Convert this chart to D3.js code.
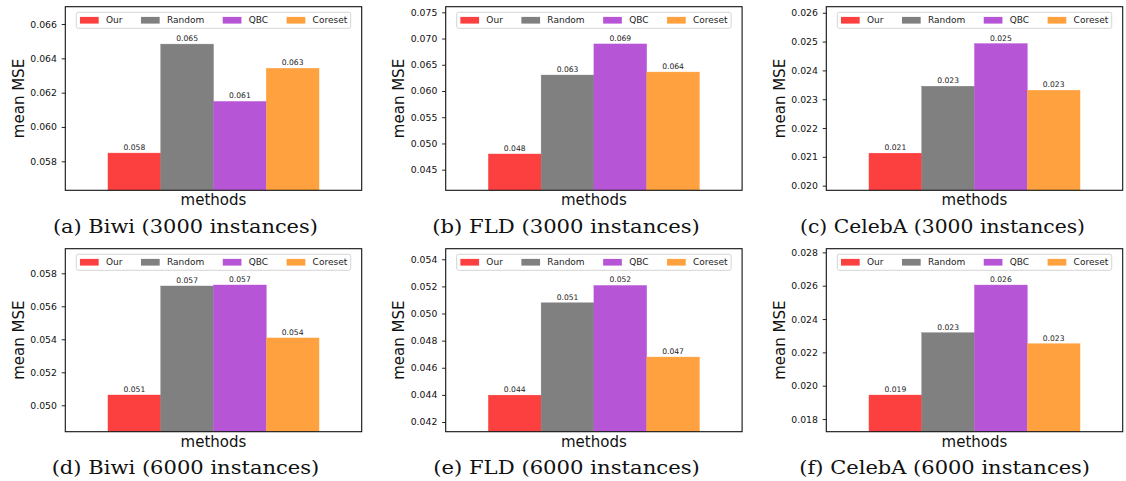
<!DOCTYPE html>
<html><head><meta charset="utf-8">
<script src="https://cdn.jsdelivr.net/npm/d3@7"></script>
<style>body{margin:0;background:#fff}svg{display:block}</style>
</head><body><svg id="c" width="1126" height="481"></svg>
<script>
// ---- data ----
const methods = ["Our", "Random", "QBC", "Coreset"];
const captions = [
  "(a) Biwi (3000 instances)", "(b) FLD (3000 instances)", "(c) CelebA (3000 instances)",
  "(d) Biwi (6000 instances)", "(e) FLD (6000 instances)", "(f) CelebA (6000 instances)"
];
const biwi3000   = [0.05848, 0.06483, 0.06149, 0.06342];
const fld3000    = [0.04799, 0.06304, 0.06897, 0.06361];
const celeba3000 = [0.021128, 0.023451, 0.02493, 0.023312];
const biwi6000   = [0.050624, 0.05723, 0.05729, 0.05408];
const fld6000    = [0.04398, 0.05079, 0.05207, 0.04679];
const celeba6000 = [0.01944, 0.02318, 0.02604, 0.02252];

const yLimBiwi3000   = [0.05631, 0.06701];
const yLimFld3000    = [0.04107, 0.07607];
const yLimCeleba3000 = [0.01984, 0.02621];
const yLimBiwi6000   = [0.0484, 0.05949];
const yLimFld6000    = [0.041285, 0.05478];
const yLimCeleba6000 = [0.01724, 0.02822];

const ticksBiwi3000   = [0.058, 0.060, 0.062, 0.064, 0.066];
const ticksFld3000    = [0.045, 0.050, 0.055, 0.060, 0.065, 0.070, 0.075];
const ticksCeleba3000 = [0.020, 0.021, 0.022, 0.023, 0.024, 0.025, 0.026];
const ticksBiwi6000   = [0.050, 0.052, 0.054, 0.056, 0.058];
const ticksFld6000    = [0.042, 0.044, 0.046, 0.048, 0.050, 0.052, 0.054];
const ticksCeleba6000 = [0.018, 0.020, 0.022, 0.024, 0.026, 0.028];

const seriesValues = [biwi3000, fld3000, celeba3000, biwi6000, fld6000, celeba6000];
const yLimits = [yLimBiwi3000, yLimFld3000, yLimCeleba3000, yLimBiwi6000, yLimFld6000, yLimCeleba6000];
const yTicks = [ticksBiwi3000, ticksFld3000, ticksCeleba3000, ticksBiwi6000, ticksFld6000, ticksCeleba6000];

// ---- style / layout ----
const colors = ["#fc4040", "#808080", "#b656d6", "#ffa13f"];
const colLeft = [65.3, 445.7, 826.3];
const plotW = 296.4;
const rowTopBottom = [[6.7, 190.3], [248.7, 431.7]];
const capCenter = [185.4, 566, 942.5, 185.5, 566.5, 944.7];
const capWidth = [265, 267.7, 285, 267.7, 266.7, 290.7];
const capBaseline = [233.3, 474.3];
const sans = "DejaVu Sans, sans-serif";

const svg = d3.select("#c");

seriesValues.forEach((vals, i) => {
  const r = Math.floor(i / 3), c = i % 3;
  const left = colLeft[c], top = rowTopBottom[r][0], bottom = rowTopBottom[r][1];
  const h = bottom - top;
  const g = svg.append("g").attr("transform", `translate(${left},${top})`);

  const x = d3.scaleBand().domain(methods).range([plotW * 0.144, plotW * 0.856]).padding(0);
  const y = d3.scaleLinear().domain(yLimits[i]).range([h, 0]);

  const clipId = "clip" + i;
  g.append("clipPath").attr("id", clipId).append("rect").attr("width", plotW).attr("height", h);

  // bars
  g.append("g").attr("clip-path", `url(#${clipId})`)
    .selectAll("rect").data(methods).join("rect")
    .attr("x", d => x(d)).attr("width", x.bandwidth())
    .attr("y", (d, k) => y(vals[k])).attr("height", (d, k) => h - y(vals[k]))
    .attr("fill", (d, k) => colors[k])
    .attr("stroke", (d, k) => colors[k]).attr("stroke-width", 0.4);

  // value labels
  g.selectAll("text.val").data(methods).join("text").attr("class", "val")
    .attr("x", d => x(d) + x.bandwidth() / 2)
    .attr("y", (d, k) => y(vals[k]) - 3)
    .attr("text-anchor", "middle")
    .attr("font-family", sans).attr("font-size", 7.6).attr("fill", "#222")
    .text((d, k) => d3.format(".3f")(vals[k]));

  // y axis
  const ax = g.append("g").call(d3.axisLeft(y).tickValues(yTicks[i]).tickFormat(d3.format(".3f")).tickSize(3.6).tickPadding(4.8));
  ax.select(".domain").remove();
  ax.selectAll("text").attr("font-family", sans).attr("font-size", 9.3).attr("fill", "#111");
  ax.selectAll("line").attr("stroke", "#111").attr("stroke-width", 0.9);

  // frame
  g.append("rect").attr("width", plotW).attr("height", h)
    .attr("fill", "none").attr("stroke", "#111").attr("stroke-width", 1.1);

  // legend
  const lg = g.append("g");
  const lbox = lg.append("rect").attr("y", 5.6).attr("height", 16).attr("rx", 2)
    .attr("fill", "#fff").attr("fill-opacity", 0.85).attr("stroke", "#d0d0d0").attr("stroke-width", 0.9);
  let cx = 3.7;
  methods.forEach((m, k) => {
    lg.append("rect").attr("x", cx).attr("y", 10.2).attr("width", 18.7).attr("height", 6.7).attr("fill", colors[k]);
    const t = lg.append("text").attr("x", cx + 26).attr("y", 16.8)
      .attr("font-family", sans).attr("font-size", 9).attr("fill", "#222").text(m);
    const tw = t.node().getComputedTextLength();
    cx += 26 + tw + (k < methods.length - 1 ? 18.5 : 3.5);
  });
  lbox.attr("width", cx);
  lg.attr("transform", `translate(${(plotW - cx) / 2},0)`);

  // axis labels
  g.append("text").attr("transform", `translate(${-46.3},${h / 2}) rotate(-90)`)
    .attr("text-anchor", "middle").attr("dominant-baseline", "central")
    .attr("font-family", sans).attr("font-size", 15).attr("fill", "#111").text("mean MSE");
  g.append("text").attr("x", plotW / 2).attr("y", h + 15)
    .attr("text-anchor", "middle")
    .attr("font-family", sans).attr("font-size", 15).attr("fill", "#111").text("methods");

  // caption
  svg.append("text").attr("x", capCenter[i]).attr("y", capBaseline[r])
    .attr("text-anchor", "middle")
    .attr("font-family", "DejaVu Serif, serif").attr("font-size", 18.5).attr("fill", "#111")
    .attr("textLength", capWidth[i]).attr("lengthAdjust", "spacingAndGlyphs")
    .text(captions[i]);
});
</script>
</body></html>
